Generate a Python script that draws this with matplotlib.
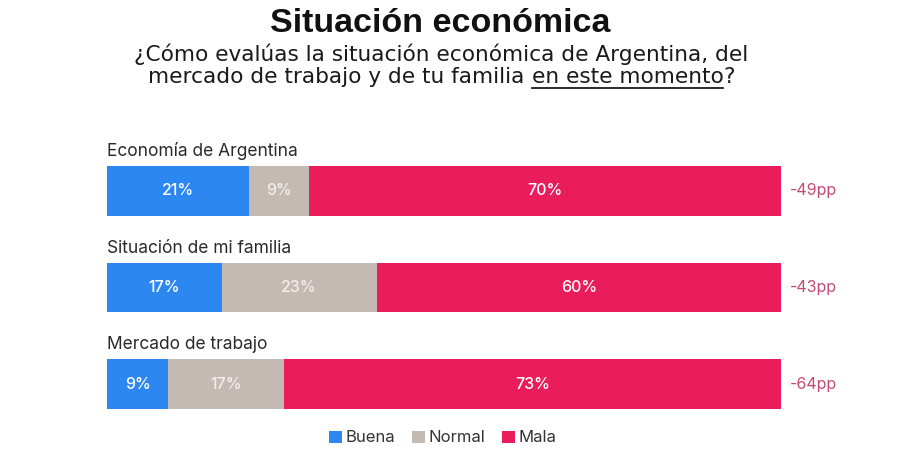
import matplotlib
matplotlib.use("Agg")
import matplotlib.pyplot as plt
from matplotlib.patches import Patch

categories = ["Economía de Argentina", "Situación de mi familia", "Mercado de trabajo"]
series_names = ["Buena", "Normal", "Mala"]
buena = [21, 17, 9]
normal = [9, 23, 17]
mala = [70, 60, 73]
diff_labels = ["-49pp", "-43pp", "-64pp"]

colors = ["#2D87F0", "#C5BAB3", "#EA1D5C"]
text_colors = ["white", "#F2EEEA", "white"]
W, H = 900, 459
fig = plt.figure(figsize=(W / 100, H / 100), dpi=100)

def px(x0, y0, x1, y1):
    return [x0 / W, 1 - y1 / H, (x1 - x0) / W, (y1 - y0) / H]

ax = fig.add_axes(px(107, 130, 781, 420))
ax.set_xlim(0, 100)
ax.set_ylim(2.373, -0.632)
ax.axis("off")

# 100% stacked: each row is scaled to its total
totals = [b + n + m for b, n, m in zip(buena, normal, mala)]
bar_h = 0.518
lefts = [0.0] * len(categories)
for name, vals, col, tc in zip(series_names, [buena, normal, mala], colors, text_colors):
    widths_row = [v / t * 100 for v, t in zip(vals, totals)]
    ax.barh(range(len(categories)), widths_row, left=lefts, height=bar_h, color=col, edgecolor="none")
    for i, v in enumerate(vals):
        ax.text(lefts[i] + widths_row[i] / 2, i, f"{v}%", ha="center", va="center", color=tc,
                fontsize=11.5, family="Inter", fontweight="medium")
    lefts = [l + w for l, w in zip(lefts, widths_row)]

for i, c in enumerate(categories):
    ax.text(0, i - 0.36, c, ha="left", va="baseline", fontsize=12.5, color="#2a2a2a", family="Inter")
    ax.text(101.3, i, diff_labels[i], ha="left", va="center", fontsize=11.5, color="#C44A74", family="Inter")

# Title and subtitle
fig.text(440 / W, 1 - 32 / H, "Situación económica", ha="center", va="baseline",
         fontsize=24.5, fontweight="bold", family="Liberation Sans", color="#111111")

sub_font = "DejaVu Sans"
line1 = "¿Cómo evalúas la situación económica de Argentina, del"
fig.canvas.draw()
r = fig.canvas.get_renderer()
tmp = fig.text(0, 0, line1, fontsize=14, family=sub_font)
w1 = tmp.get_window_extent(r).width
tmp.remove()
sub_fs = 14 * 613 / w1
fig.text(441.5 / W, 1 - 61 / H, line1, ha="center", va="baseline",
         fontsize=sub_fs, family=sub_font, color="#1a1a1a")

parts = ["mercado de trabajo y de tu familia ", "en este momento", "?"]
widths = []
for p in parts:
    t = fig.text(0, 0, p, fontsize=sub_fs, family=sub_font)
    widths.append(t.get_window_extent(r).width)
    t.remove()
total = sum(widths)
x = 441.5 - total / 2
base_y = 1 - 83 / H
for i, p in enumerate(parts):
    fig.text(x / W, base_y, p, ha="left", va="baseline", fontsize=sub_fs,
             family=sub_font, color="#1a1a1a")
    if i == 1:
        fig.add_artist(plt.Line2D([x / W, (x + widths[i]) / W], [1 - 87.5 / H] * 2,
                                  color="#1a1a1a", lw=1.3, transform=fig.transFigure))
    x += widths[i]

handles = [Patch(facecolor=c, edgecolor="none", label=n) for c, n in zip(colors, series_names)]
fig.legend(handles=handles, loc="center", bbox_to_anchor=(443 / W, 1 - 438 / H), ncol=3,
           frameon=False, handlelength=0.75, handleheight=0.75, handletextpad=0.25,
           columnspacing=1.0, prop={"family": "Inter", "size": 12})
for t in fig.legends[0].get_texts():
    t.set_color("#333333")

fig.savefig("out.png", dpi=100, facecolor="white")
